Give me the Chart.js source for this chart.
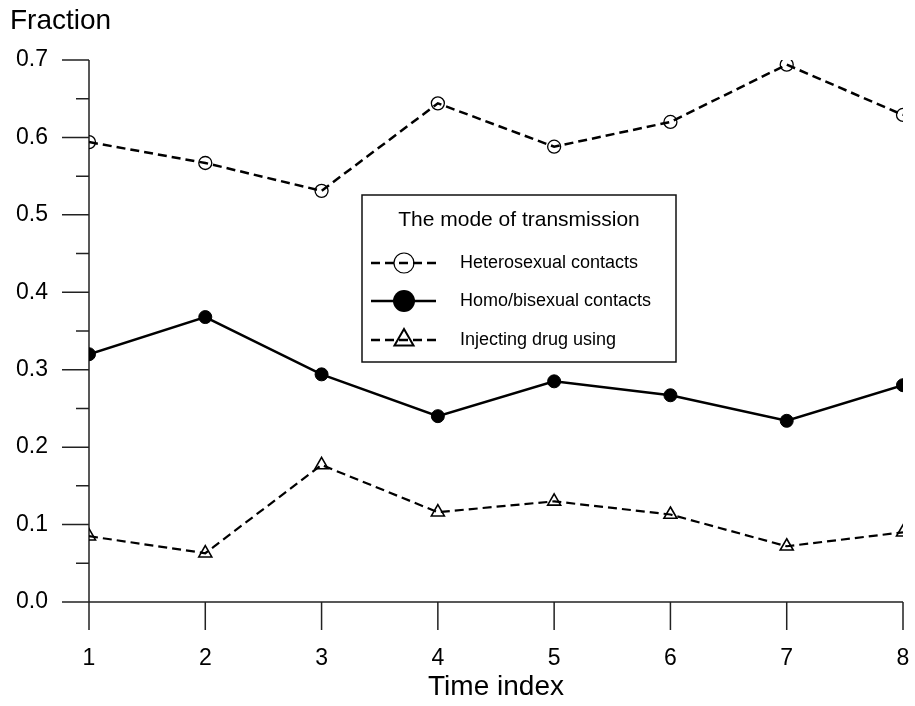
<!DOCTYPE html>
<html>
<head>
<meta charset="utf-8">
<script src="https://cdn.jsdelivr.net/npm/chart.js@4/dist/chart.umd.min.js"></script>
<style>
  html, body { margin: 0; padding: 0; background: #fff; overflow: hidden; }
  #wrap { width: 915px; height: 706px; }
  canvas { display: block; }
</style>
</head>
<body>
<div id="wrap"><canvas id="fractionChart"></canvas></div>
<script>
// values
const timeIndex = [1, 2, 3, 4, 5, 6, 7, 8];
const heteroSeries = [0.594, 0.567, 0.531, 0.644, 0.588, 0.620, 0.694, 0.629];
const homoSeries = [0.320, 0.368, 0.294, 0.240, 0.285, 0.267, 0.234, 0.280];
const drugSeries = [0.085, 0.063, 0.177, 0.116, 0.130, 0.113, 0.072, 0.090];
const yMajorTicks = [0, 0.1, 0.2, 0.3, 0.4, 0.5, 0.6, 0.7];
const yMinorTicks = [0.05, 0.15, 0.25, 0.35, 0.45, 0.55, 0.65];
const seriesNames = ["Heterosexual contacts", "Homo/bisexual contacts", "Injecting drug using"];

const FONT = "'Liberation Sans', Arial, sans-serif";

function toPoints(values) {
    return values.map((v, i) => ({ x: timeIndex[i], y: v }));
}

// axes drawn by hand as a cross at the origin, like the original
const axesPlugin = {
    id: "crossAxes",
    beforeDatasetsDraw(chart) {
        const ctx = chart.ctx;
        const xs = chart.scales.x;
        const ys = chart.scales.y;
        const x0 = xs.getPixelForValue(timeIndex[0]);
        const y0 = ys.getPixelForValue(0);
        ctx.save();
        ctx.strokeStyle = "#222";
        ctx.lineWidth = 1.5;
        ctx.beginPath();
        // y axis line + major/minor ticks
        ctx.moveTo(x0, ys.getPixelForValue(0.7));
        ctx.lineTo(x0, y0);
        yMajorTicks.forEach(v => {
            const p = ys.getPixelForValue(v);
            ctx.moveTo(x0 - 27, p);
            ctx.lineTo(x0, p);
        });
        yMinorTicks.forEach(v => {
            const p = ys.getPixelForValue(v);
            ctx.moveTo(x0 - 13, p);
            ctx.lineTo(x0, p);
        });
        // x axis line + ticks
        ctx.moveTo(x0, y0);
        ctx.lineTo(xs.getPixelForValue(timeIndex[timeIndex.length - 1]), y0);
        timeIndex.forEach(t => {
            const p = xs.getPixelForValue(t);
            ctx.moveTo(p, y0);
            ctx.lineTo(p, y0 + 28);
        });
        ctx.stroke();

        // y axis caption
        ctx.fillStyle = "#000";
        ctx.font = "28px " + FONT;
        ctx.textAlign = "left";
        ctx.textBaseline = "alphabetic";
        ctx.fillText("Fraction", 10, 29);
        ctx.restore();
    }
};

// boxed legend with a title inside the plot
const legendPlugin = {
    id: "boxLegend",
    afterDraw(chart) {
        const ctx = chart.ctx;
        const left = 362, top = 195, right = 676, bottom = 362;
        ctx.save();
        ctx.fillStyle = "#fff";
        ctx.fillRect(left, top, right - left, bottom - top);
        ctx.strokeStyle = "#111";
        ctx.lineWidth = 1.5;
        ctx.strokeRect(left, top, right - left, bottom - top);

        ctx.fillStyle = "#000";
        ctx.font = "21px " + FONT;
        ctx.textAlign = "center";
        ctx.textBaseline = "middle";
        ctx.fillText("The mode of transmission", (left + right) / 2, 220);

        const rows = [263, 301, 340];
        chart.data.datasets.forEach((ds, i) => {
            const y = rows[i];
            ctx.strokeStyle = "#000";
            ctx.lineWidth = 2.5;
            ctx.setLineDash(ds.borderDash || []);
            ctx.beginPath();
            ctx.moveTo(371, y);
            ctx.lineTo(436, y);
            ctx.stroke();
            ctx.setLineDash([]);

            const mx = 404;
            ctx.beginPath();
            if (ds.pointStyle === "triangle") {
                const r = 11;
                ctx.moveTo(mx, y - r);
                ctx.lineTo(mx + r * Math.sin(2 * Math.PI / 3), y + r / 2);
                ctx.lineTo(mx - r * Math.sin(2 * Math.PI / 3), y + r / 2);
                ctx.closePath();
                ctx.lineWidth = 2;
                ctx.stroke();
            } else if (ds.pointBackgroundColor === "#000") {
                ctx.arc(mx, y, 11, 0, Math.PI * 2);
                ctx.fillStyle = "#000";
                ctx.fill();
            } else {
                ctx.arc(mx, y, 10, 0, Math.PI * 2);
                ctx.lineWidth = 1.2;
                ctx.stroke();
            }

            ctx.fillStyle = "#000";
            ctx.font = "18px " + FONT;
            ctx.textAlign = "left";
            ctx.fillText(ds.label, 460, y);
        });
        ctx.restore();
    }
};

const data = {
    datasets: [
        {
            label: seriesNames[0], data: toPoints(heteroSeries),
            borderColor: "#000", borderWidth: 2.5, borderDash: [9, 5],
            pointStyle: "circle", pointRadius: 6.5, pointBorderWidth: 1.3,
            pointBorderColor: "#000", pointBackgroundColor: "rgba(0,0,0,0)", tension: 0
        },
        {
            label: seriesNames[1], data: toPoints(homoSeries),
            borderColor: "#000", borderWidth: 2.5,
            pointStyle: "circle", pointRadius: 6.5, pointBorderWidth: 1,
            pointBorderColor: "#000", pointBackgroundColor: "#000", tension: 0
        },
        {
            label: seriesNames[2], data: toPoints(drugSeries),
            borderColor: "#000", borderWidth: 2.2, borderDash: [9, 5],
            pointStyle: "triangle", pointRadius: 7.5, pointBorderWidth: 1.6,
            pointBorderColor: "#000", pointBackgroundColor: "rgba(0,0,0,0)", tension: 0
        }
    ]
};

const config = {
    type: "line",
    data,
    options: {
        responsive: true,
        maintainAspectRatio: false,
        animation: false,
        layout: { padding: { left: 0, top: 60, right: 12, bottom: 0 } },
        plugins: { legend: { display: false }, title: { display: false }, tooltip: { enabled: false } },
        scales: {
            x: {
                type: "linear", min: 1, max: 8,
                // invisible tick marks only push the labels away from the axis
                grid: { display: false, drawTicks: true, tickLength: 43 },
                border: { display: false },
                afterBuildTicks: (scale) => { scale.ticks = timeIndex.map(v => ({ value: v })); },
                afterFit: (scale) => { scale.height = 104; },
                ticks: {
                    color: "#000", padding: 0, font: { family: FONT, size: 23 },
                    callback: (v) => String(v)
                },
                title: {
                    display: true, text: "Time index", color: "#000",
                    font: { family: FONT, size: 28 }, padding: { top: 0, bottom: 2 }
                }
            },
            y: {
                min: 0, max: 0.7,
                grid: { display: false, drawTicks: true, tickLength: 41 },
                border: { display: false },
                afterBuildTicks: (scale) => { scale.ticks = yMajorTicks.map(v => ({ value: v })); },
                afterFit: (scale) => { scale.width = 89; },
                ticks: {
                    color: "#000", padding: 0, font: { family: FONT, size: 23 },
                    callback: (v) => v.toFixed(1)
                }
            }
        }
    },
    plugins: [axesPlugin, legendPlugin]
};

const fractionChart = new Chart(document.getElementById("fractionChart"), config);
</script>
</body>
</html>
